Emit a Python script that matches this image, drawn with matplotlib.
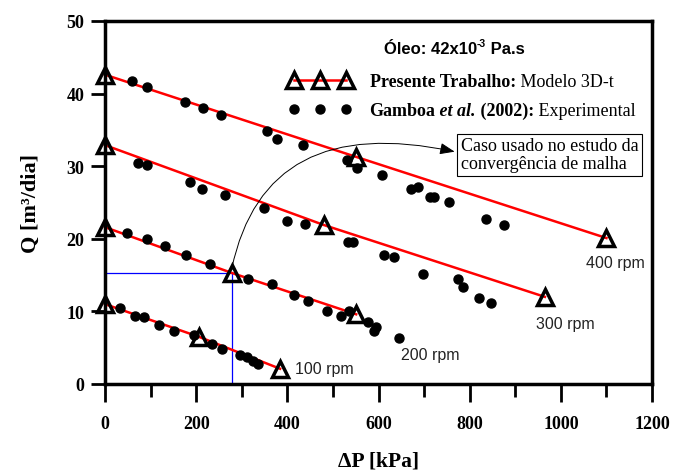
import matplotlib
matplotlib.use('Agg')
import matplotlib.pyplot as plt
from matplotlib.lines import Line2D
from matplotlib.ticker import MultipleLocator

plt.rcParams['font.family'] = ['Liberation Serif', 'DejaVu Serif']

# Presente Trabalho: Modelo 3D-t (triangles + red line)
mod_x_400 = [0, 550, 1100]
mod_y_400 = [42.6, 31.3, 20.1]
mod_x_300 = [0, 480, 965]
mod_y_300 = [32.9, 21.9, 12.0]
mod_x_200 = [0, 278, 551]
mod_y_200 = [21.6, 15.3, 9.6]
mod_x_100 = [0, 206, 384]
mod_y_100 = [11.0, 6.5, 2.1]

# Gamboa et al. (2002): Experimental
exp_x_400 = [59, 93, 176, 214, 255, 355, 377, 435, 530, 552, 607, 672, 687, 712, 722, 755, 835, 875]
exp_y_400 = [41.8, 40.9, 38.9, 38.0, 37.1, 34.9, 33.8, 32.9, 30.9, 29.8, 28.8, 26.9, 27.1, 25.8, 25.8, 25.1, 22.7, 21.9]
exp_x_300 = [73, 92, 187, 212, 263, 349, 399, 439, 534, 545, 612, 633, 698, 774, 785, 821, 847]
exp_y_300 = [30.4, 30.1, 27.8, 26.9, 26.0, 24.2, 22.5, 22.0, 19.6, 19.6, 17.8, 17.5, 15.2, 14.4, 13.3, 11.9, 11.2]
exp_x_200 = [48, 92, 131, 177, 231, 314, 366, 414, 446, 488, 517, 536, 576, 594, 591, 646]
exp_y_200 = [20.8, 20.0, 19.0, 17.8, 16.5, 14.5, 13.8, 12.3, 11.4, 10.1, 9.4, 10.0, 8.5, 7.8, 7.3, 6.4]
exp_x_100 = [33, 66, 85, 119, 151, 195, 234, 257, 296, 311, 325, 336]
exp_y_100 = [10.4, 9.4, 9.2, 8.1, 7.3, 6.7, 5.5, 4.8, 4.0, 3.7, 3.2, 2.8]

rpm_labels = ['400 rpm', '300 rpm', '200 rpm', '100 rpm']
rpm_label_pos = [(1119, 16.7, 'center'), (1009, 8.3, 'center'), (713, 4.1, 'center'), (416, 2.1, 'left')]

# case used in the mesh convergence study
case_x, case_y = 278, 15.3

tri_style = dict(color='red', lw=1.8, marker='^', ms=11, mfc='none', mec='black', mew=2.5)
dot_style = dict(ls='none', marker='o', ms=6.5, color='black')

fig = plt.figure(figsize=(6.74, 4.77), dpi=100)
ax = fig.add_axes([0.1558, 0.1929, 0.8116, 0.761])

for mx, my in [(mod_x_400, mod_y_400), (mod_x_300, mod_y_300),
               (mod_x_200, mod_y_200), (mod_x_100, mod_y_100)]:
    ax.plot(mx, my, zorder=2, clip_on=False, **tri_style)

for ex, ey in [(exp_x_400, exp_y_400), (exp_x_300, exp_y_300),
               (exp_x_200, exp_y_200), (exp_x_100, exp_y_100)]:
    ax.plot(ex, ey, zorder=3, **dot_style)

# blue guide lines
ax.plot([0, case_x], [case_y, case_y], color='blue', lw=0.9, zorder=1)
ax.plot([case_x, case_x], [case_y, 0], color='blue', lw=0.9, zorder=1)

for lab, (lx, ly, ha) in zip(rpm_labels, rpm_label_pos):
    ax.text(lx, ly, lab, family='Liberation Sans', fontsize=11.5, ha=ha, va='center', color='#222222')

# annotation box + curved arrow
ax.text(781, 31.6, 'Caso usado no estudo da\nconvergência de malha', fontsize=13,
        ha='left', va='center', linespacing=1.05,
        bbox=dict(boxstyle='square,pad=0.2', fc='white', ec='black', lw=0.8))
ax.annotate('', xy=(767, 32.0), xytext=(case_x, case_y + 0.6),
            arrowprops=dict(arrowstyle='-|>,head_length=0.9,head_width=0.35', color='black', lw=0.7,
                            connectionstyle='angle3,angleA=78,angleB=-12', shrinkA=0, shrinkB=0))

# title text
t1 = ax.text(0.510, 0.912, 'Óleo: 42x10', transform=ax.transAxes, family='Liberation Sans',
             weight='bold', fontsize=12, ha='left', va='baseline')
t2 = ax.annotate('-3', xy=(1, 0.5), xycoords=t1, family='Liberation Sans', weight='bold',
                 fontsize=7.5, ha='left', va='bottom')
ax.annotate(' Pa.s', xy=(1, 0), xycoords=(t2, t1), family='Liberation Sans', weight='bold',
            fontsize=12, ha='left', va='bottom')

# legend
h1 = Line2D([], [], **tri_style)
h2 = Line2D([], [], **dot_style)
leg = ax.legend([h1, h2], ['Presente Trabalho:', 'Gamboa'], loc='upper left',
                bbox_to_anchor=(0.335, 0.856), frameon=False, numpoints=3, handlelength=3.5,
                handletextpad=1.0, labelspacing=0.65, borderpad=0, borderaxespad=0,
                prop={'family': 'Liberation Serif', 'weight': 'bold', 'size': 13})
lt = leg.get_texts()
ax.annotate(' Modelo 3D-t', xy=(1, 0), xycoords=lt[0], fontsize=13, ha='left', va='bottom', zorder=6)
a1 = ax.annotate(' et al.', xy=(1, 0), xycoords=lt[1], fontsize=13, weight='bold', style='italic',
                 ha='left', va='bottom', zorder=6)
a2 = ax.annotate(' (2002):', xy=(1, 0), xycoords=a1, fontsize=13, weight='bold',
                 ha='left', va='bottom', zorder=7)
ax.annotate(' Experimental', xy=(1, 0), xycoords=a2, fontsize=13, ha='left', va='bottom', zorder=8)

ax.set_xlim(0, 1200)
ax.set_ylim(0, 50)
ax.xaxis.set_major_locator(MultipleLocator(200))
ax.xaxis.set_minor_locator(MultipleLocator(100))
ax.yaxis.set_major_locator(MultipleLocator(10))
ax.tick_params(axis='x', which='major', length=13, width=2, pad=9, labelsize=13, direction='out')
ax.tick_params(axis='x', which='minor', length=9.5, width=2, direction='out')
ax.tick_params(axis='y', which='major', length=10, width=2, pad=5, labelsize=13, direction='out')
for lbl in ax.get_xticklabels() + ax.get_yticklabels():
    lbl.set_fontweight('bold')
for sp in ax.spines.values():
    sp.set_linewidth(2.5)

ax.set_xlabel('ΔP [kPa]', fontsize=15.5, weight='bold', labelpad=14)
ax.set_ylabel('Q [m³/dia]', fontsize=16, weight='bold', labelpad=18)

fig.savefig('out.png', dpi=100)
